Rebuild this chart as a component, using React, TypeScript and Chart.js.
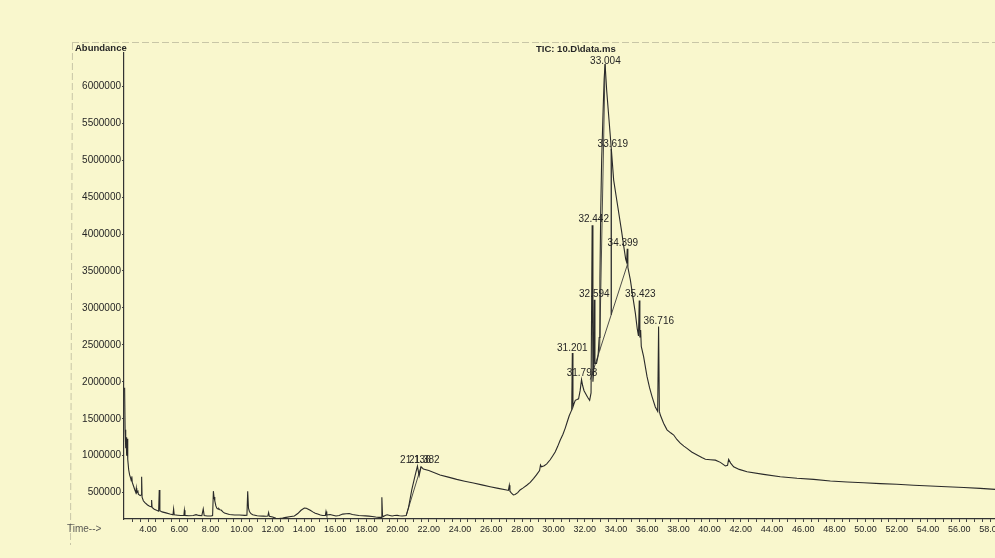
import React, { useEffect, useRef } from 'react';
import { Chart, registerables } from 'chart.js';

Chart.register(...registerables);

// ---- Data (retention time in min, abundance) ----
const traceTimes = [
  2.50, 2.53, 2.57, 2.60, 2.63, 2.67, 2.70, 2.76, 2.82, 2.88, 2.93, 2.96, 2.99, 3.07, 3.15, 3.22, 3.25, 3.28, 3.35, 3.38,
  3.50, 3.57, 3.59, 3.62, 3.70, 3.80, 3.97, 4.10, 4.20, 4.23, 4.26, 4.40, 4.55, 4.68, 4.72, 4.76, 4.90, 5.15, 5.40, 5.60,
  5.64, 5.68, 5.90, 6.10, 6.30, 6.33, 6.37, 6.60, 6.90, 7.08, 7.25, 7.45, 7.54, 7.60, 7.80, 8.04, 8.14, 8.19, 8.23, 8.28,
  8.35, 8.41, 8.50, 8.54, 8.60, 8.69, 8.80, 8.90, 9.22, 9.55, 9.86, 10.20, 10.34, 10.39, 10.44, 10.50, 10.60, 10.71, 11.00, 11.14,
  11.40, 11.56, 11.68, 11.73, 11.78, 11.99, 12.20, 12.40, 12.63, 12.85, 13.06, 13.38, 13.60, 13.81, 14.02, 14.15, 14.24, 14.40, 14.56, 14.72,
  14.88, 15.05, 15.20, 15.37, 15.41, 15.46, 15.55, 15.67, 15.85, 16.05, 16.25, 16.48, 16.70, 16.90, 17.10, 17.30, 17.51, 17.75, 17.94, 18.15,
  18.37, 18.60, 18.80, 18.95, 18.99, 19.03, 19.07, 19.20, 19.33, 19.50, 19.65, 19.80, 19.97, 20.12, 20.29, 20.45, 20.55, 20.70, 20.91, 21.12,
  21.27, 21.38, 21.50, 21.65, 22.00, 22.72, 23.25, 23.79, 24.30, 24.86, 25.40, 25.93, 26.45, 26.99, 27.10, 27.16, 27.20, 27.30, 27.42, 27.53,
  27.70, 27.85, 28.05, 28.28, 28.50, 28.71, 28.90, 29.10, 29.16, 29.22, 29.40, 29.56, 29.78, 29.95, 30.10, 30.25, 30.42, 30.60, 30.74, 30.86,
  31.00, 31.10, 31.16, 31.20, 31.24, 31.30, 31.39, 31.50, 31.60, 31.70, 31.79, 31.86, 31.95, 32.03, 32.18, 32.31, 32.40, 32.47, 32.52, 32.57,
  32.61, 32.65, 32.75, 32.85, 32.92, 32.97, 33.02, 33.08, 33.17, 33.24, 33.30, 33.40, 33.55, 33.70, 33.85, 34.10, 34.35, 34.50, 34.62, 34.68,
  34.72, 34.76, 34.92, 35.08, 35.24, 35.36, 35.44, 35.49, 35.53, 35.58, 35.62, 35.77, 35.99, 36.15, 36.31, 36.52, 36.67, 36.73, 36.78, 36.84,
  37.05, 37.27, 37.50, 37.70, 37.90, 38.12, 38.35, 38.55, 38.85, 39.20, 39.50, 39.73, 40.05, 40.37, 40.69, 41.01, 41.15, 41.22, 41.35, 41.54,
  41.90, 42.40, 43.46, 44.53, 45.60, 46.67, 47.74, 48.81, 49.87, 50.94, 52.00, 53.08, 54.15, 55.20, 56.30, 57.35, 58.30, 59.50, 61.00,
];

const traceAbundance = [
  1920000, 1350000, 1100000, 1250000, 1000000, 1230000, 950000, 810000, 740000, 700000, 660000, 720000, 640000, 590000, 540000, 500000, 560000, 500000, 520000, 480000,
  460000, 470000, 716000, 440000, 390000, 365000, 333000, 315000, 310000, 400000, 300000, 275000, 262000, 250000, 536000, 255000, 240000, 226000, 210000, 200000,
  280000, 200000, 195000, 190000, 192000, 262000, 192000, 188000, 190000, 202000, 192000, 188000, 280000, 190000, 185000, 184000, 190000, 520000, 440000, 390000,
  320000, 290000, 275000, 285000, 268000, 265000, 240000, 226000, 205000, 198000, 197000, 192000, 195000, 520000, 290000, 245000, 215000, 200000, 188000, 184000,
  182000, 180000, 184000, 230000, 180000, 170000, 152000, 150000, 155000, 165000, 175000, 184000, 217000, 262000, 292000, 290000, 280000, 262000, 240000, 222000,
  210000, 198000, 190000, 192000, 245000, 195000, 200000, 205000, 195000, 184000, 192000, 210000, 214000, 217000, 205000, 198000, 190000, 188000, 186000, 183000,
  178000, 170000, 165000, 165000, 437000, 200000, 175000, 190000, 200000, 192000, 185000, 190000, 192000, 188000, 185000, 188000, 190000, 300000, 540000, 730000,
  860000, 730000, 850000, 820000, 800000, 740000, 710000, 680000, 655000, 630000, 605000, 580000, 558000, 536000, 530000, 600000, 520000, 495000, 470000, 475000,
  500000, 536000, 565000, 600000, 640000, 690000, 740000, 800000, 874000, 850000, 865000, 890000, 945000, 1000000, 1050000, 1120000, 1210000, 1290000, 1370000, 1450000,
  1540000, 1590000, 1620000, 2390000, 1660000, 1700000, 1750000, 1760000, 1770000, 1880000, 2030000, 1950000, 1880000, 1850000, 1790000, 1750000, 1850000, 4120000, 2000000, 2150000,
  3110000, 2250000, 2250000, 2350000, 2600000, 3400000, 4300000, 5000000, 5650000, 6100000, 6300000, 5950000, 5550000, 5150000, 4730000, 4390000, 4050000, 3830000, 3660000, 3620000,
  3800000, 3550000, 3380000, 3150000, 2930000, 2720000, 2620000, 3100000, 2600000, 2700000, 2480000, 2340000, 2070000, 1920000, 1800000, 1660000, 1600000, 2750000, 1600000, 1550000,
  1440000, 1350000, 1310000, 1280000, 1220000, 1170000, 1130000, 1100000, 1050000, 1010000, 975000, 951000, 945000, 940000, 910000, 862000, 870000, 950000, 900000, 850000,
  815000, 784000, 748000, 716000, 694000, 680000, 658000, 644000, 635000, 622000, 613000, 600000, 590000, 580000, 570000, 558000, 544000, 532000, 520000,
];

// integration marks (segments separated by null)
const baselineTimes = [20.55, 21.50, 21.50, 32.35, 34.72, 34.72, 33.70, 33.70, 33.70, 33.30, 32.95];
const baselineAbundance = [190000, 850000, null, 2030000, 3580000, null, 5150000, 2910000, null, 6300000, 2420000];

const peakLabels = ['33.004', '33.619', '32.442', '34.399', '32.594', '35.423', '36.716', '31.201', '31.793', '21.136', '21.382'];
const peakLabelTimes = [33.32, 33.80, 32.57, 34.44, 32.61, 35.56, 36.74, 31.20, 31.82, 21.14, 21.71];
const peakLabelAbundance = [6342000, 5218000, 4204000, 3879000, 3189000, 3189000, 2823000, 2457000, 2115000, 942000, 942000];

const yTickValues = [500000, 1000000, 1500000, 2000000, 2500000, 3000000, 3500000, 4000000, 4500000, 5000000, 5500000, 6000000];
const xLabelValues = [4, 6, 8, 10, 12, 14, 16, 18, 20, 22, 24, 26, 28, 30, 32, 34, 36, 38, 40, 42, 44, 46, 48, 50, 52, 54, 56, 58, 60];

const PAPER = '#f9f7cd';
const INK = '#262626';
const FONT = '"Liberation Sans", Arial, sans-serif';

export default function App() {
  const ref = useRef<HTMLCanvasElement | null>(null);

  useEffect(() => {
    if (!ref.current) return;

    const overlay = {
      id: 'overlay',
      beforeDraw(chart: any) {
        const ctx = chart.ctx;
        ctx.save();
        ctx.fillStyle = PAPER;
        ctx.fillRect(0, 0, chart.width, chart.height);
        ctx.strokeStyle = 'rgba(140,138,120,0.45)';
        ctx.lineWidth = 1;
        ctx.setLineDash([7, 3]);
        ctx.beginPath();
        ctx.moveTo(72, 42.5);
        ctx.lineTo(chart.width, 42.5);
        ctx.moveTo(72.5, 43);
        ctx.lineTo(70.5, 545);
        ctx.stroke();
        ctx.restore();
      },
      afterDraw(chart: any) {
        const ctx = chart.ctx;
        const xs = chart.scales.x;
        const ys = chart.scales.y;
        ctx.save();
        ctx.fillStyle = INK;
        ctx.font = `10px ${FONT}`;
        ctx.textAlign = 'center';
        ctx.textBaseline = 'middle';
        peakLabels.forEach((s, i) => {
          ctx.fillText(s, xs.getPixelForValue(peakLabelTimes[i]), ys.getPixelForValue(peakLabelAbundance[i]));
        });
        ctx.textAlign = 'left';
        ctx.font = `bold 9.5px ${FONT}`;
        ctx.fillText('Abundance', 75, 48);
        ctx.fillText('TIC: 10.D\\data.ms', 536, 49);
        ctx.font = `10px ${FONT}`;
        ctx.fillStyle = '#5a5a55';
        ctx.fillText('Time-->', 67, 529);
        ctx.restore();
      },
    };

    const chart = new Chart(ref.current, {
      type: 'line',
      data: {
        datasets: [
          {
            data: traceTimes.map((t, i) => ({ x: t, y: traceAbundance[i] })),
            borderColor: '#2a2a2a',
            borderWidth: 1.1,
            pointRadius: 0,
            tension: 0,
            fill: false,
          },
          {
            data: baselineTimes.map((t, i) => ({ x: t, y: baselineAbundance[i] })),
            borderColor: '#3a3a3a',
            borderWidth: 0.9,
            pointRadius: 0,
            tension: 0,
            spanGaps: false,
            fill: false,
          },
        ],
      },
      options: {
        animation: false,
        responsive: false,
        devicePixelRatio: 1,
        layout: { padding: { left: 0, right: 0, top: 53, bottom: 9 } },
        plugins: { legend: { display: false }, tooltip: { enabled: false } },
        scales: {
          x: {
            type: 'linear',
            min: 2.46,
            max: 61.18,
            afterFit: (s: any) => { s.height = 30; },
            afterBuildTicks: (s: any) => {
              const t: any[] = [];
              for (let v = 3; v <= 61.001; v += 0.5) t.push({ value: Math.round(v * 10) / 10 });
              s.ticks = t;
            },
            border: { display: true, color: '#333', width: 1.2 },
            grid: { drawOnChartArea: false, drawTicks: true, tickLength: 3, color: '#444', lineWidth: 1 },
            ticks: {
              autoSkip: false,
              maxRotation: 0,
              padding: 2,
              color: INK,
              font: { family: FONT, size: 9 },
              callback: (v: any) => (xLabelValues.includes(Number(v)) ? Number(v).toFixed(2) : ''),
            },
          },
          y: {
            type: 'linear',
            min: 143500,
            max: 6450000,
            afterFit: (s: any) => { s.width = 124; },
            afterBuildTicks: (s: any) => { s.ticks = yTickValues.map((v) => ({ value: v })); },
            border: { display: true, color: '#333', width: 1.2 },
            grid: { drawOnChartArea: false, drawTicks: true, tickLength: 2, color: '#444' },
            ticks: {
              padding: 1,
              color: INK,
              font: { family: FONT, size: 10 },
              callback: (v: any) => String(v),
            },
          },
        },
      },
      plugins: [overlay],
    } as any);

    return () => chart.destroy();
  }, []);

  return (
    <div style={{ position: 'fixed', left: 0, top: 0, width: 995, height: 558, overflow: 'hidden', background: PAPER }}>
      <canvas ref={ref} width={1040} height={558} style={{ display: 'block', width: 1040, height: 558 }} />
    </div>
  );
}
